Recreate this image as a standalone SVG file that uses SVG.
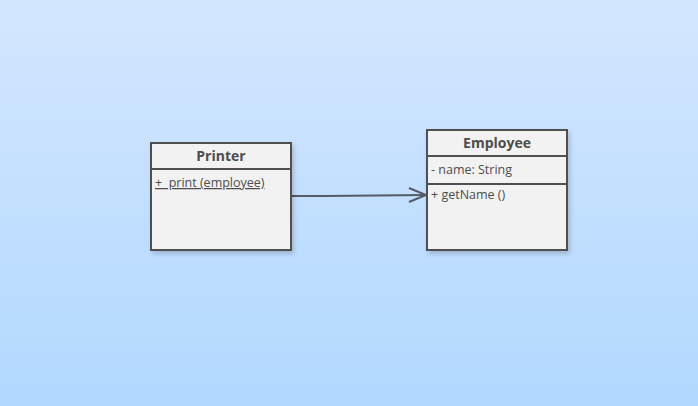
<svg xmlns="http://www.w3.org/2000/svg" width="698" height="406" viewBox="0 0 698 406">
<style>
.box{fill:#f2f2f2;stroke:#505050;stroke-width:2}
.sep{stroke:#505050;stroke-width:2}
.title{font-family:"Open Sans","Noto Sans",sans-serif;font-size:14px;font-weight:bold;fill:#4d4d4d;text-anchor:middle}
.item{font-family:"Open Sans","Noto Sans",sans-serif;font-size:12.5px;fill:#4d4d4d}
.conn{fill:none;stroke:#545b66;stroke-width:2}
</style>
<defs>
<linearGradient id="bg" x1="0" y1="0" x2="0" y2="1">
<stop offset="0" stop-color="#d3e7ff"/>
<stop offset="1" stop-color="#b2d8ff"/>
</linearGradient>
<filter id="sh" x="-10%" y="-10%" width="130%" height="130%">
<feDropShadow dx="2" dy="3" stdDeviation="2.5" flood-color="#000" flood-opacity="0.18"/>
</filter>
</defs>
<rect width="698" height="406" fill="url(#bg)"/>
<g id="connectors">
<path class="conn" d="M291,196 L325,196 L426,195"/>
<path class="conn" d="M409,188 L426,195 L409,202"/>
</g>
<g id="Printer">
<rect class="box" x="151" y="143" width="140" height="107" filter="url(#sh)"/>
<line class="sep" x1="151" y1="169" x2="291" y2="169"/>
<text class="title" x="221" y="161">Printer</text>
<text class="item" x="155" y="187" text-decoration="underline" xml:space="preserve">+  print (employee)</text>
</g>
<g id="Employee">
<rect class="box" x="427" y="130" width="140" height="120" filter="url(#sh)"/>
<line class="sep" x1="427" y1="156" x2="567" y2="156"/>
<line class="sep" x1="427" y1="184" x2="567" y2="184"/>
<text class="title" x="497" y="148">Employee</text>
<text class="item" x="431" y="174">- name: String</text>
<text class="item" x="431" y="199">+ getName ()</text>
</g>
</svg>
